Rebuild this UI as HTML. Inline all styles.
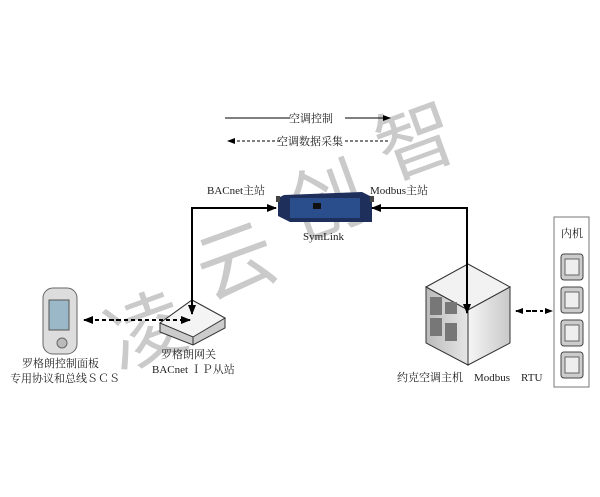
<!DOCTYPE html>
<html><head><meta charset="utf-8"><style>
body{margin:0;background:#fff;width:600px;height:497px;overflow:hidden;position:relative;font-family:"Liberation Serif","Noto Serif CJK SC",serif}
.t{position:absolute;font-size:11px;color:#222;white-space:nowrap}
.wm{position:absolute;font-family:"Noto Sans CJK SC",sans-serif;font-size:78px;color:rgba(150,150,150,0.5);transform:rotate(-20deg)}
</style></head><body>
<div class="wm" style="left:105px;top:270px">凌</div>
<div class="wm" style="left:195px;top:200px">云</div>
<div class="wm" style="left:285px;top:140px">创</div>
<div class="wm" style="left:375px;top:80px">智</div>
<svg width="600" height="497" style="position:absolute;left:0;top:0">
<defs>
<marker id="a" markerUnits="userSpaceOnUse" markerWidth="10" markerHeight="10" refX="9" refY="5" orient="auto"><path d="M0,1 L10,5 L0,9z" fill="#000"/></marker>
<marker id="s" markerUnits="userSpaceOnUse" markerWidth="8" markerHeight="8" refX="7" refY="4" orient="auto"><path d="M0,1 L8,4 L0,7z" fill="#000"/></marker>
<linearGradient id="cf" x1="0" x2="1"><stop offset="0" stop-color="#f6f6f6"/><stop offset="1" stop-color="#c8c8c8"/></linearGradient>
<linearGradient id="cl" x1="0" x2="1"><stop offset="0" stop-color="#bbb"/><stop offset="1" stop-color="#e6e6e6"/></linearGradient>
</defs>
<line x1="225" y1="118" x2="290" y2="118" stroke="#000"/>
<line x1="345" y1="118" x2="390" y2="118" stroke="#000" marker-end="url(#s)"/>
<line x1="280" y1="141" x2="228" y2="141" stroke="#000" stroke-dasharray="3,2" marker-end="url(#s)"/>
<line x1="345" y1="141" x2="390" y2="141" stroke="#000" stroke-dasharray="3,2"/>
<polygon points="284,195 362,192 372,197 372,222 290,222 278,216 278,198" fill="#1e2f5c"/>
<rect x="290" y="198" width="70" height="20" fill="#2a4d8c"/>
<rect x="313" y="203" width="8" height="6" fill="#111"/>
<rect x="276" y="196" width="4" height="6" fill="#444"/><rect x="370" y="196" width="4" height="6" fill="#444"/>
<rect x="43" y="288" width="34" height="66" rx="10" fill="#ddd" stroke="#666"/>
<rect x="49" y="300" width="20" height="30" fill="#9bb8c8" stroke="#555"/>
<circle cx="62" cy="343" r="5" fill="#bbb" stroke="#666"/>
<polygon points="160,323 192,300 225,318 225,328 193,345 160,332" fill="#ccc" stroke="#333"/>
<polygon points="160,323 192,300 225,318 193,337" fill="#f4f4f4" stroke="#333"/>
<line x1="193" y1="337" x2="193" y2="345" stroke="#333"/>
<polygon points="426,287 468,264 510,287 468,310" fill="#f2f2f2" stroke="#333"/>
<polygon points="426,287 468,310 468,365 426,343" fill="url(#cl)" stroke="#333"/>
<polygon points="468,310 510,287 510,343 468,365" fill="url(#cf)" stroke="#333"/>
<g fill="#777">
<rect x="430" y="297" width="12" height="18"/><rect x="430" y="318" width="12" height="18"/><rect x="445" y="323" width="12" height="18"/><rect x="445" y="302" width="12" height="12"/>
</g>
<rect x="554" y="217" width="35" height="170" fill="#fff" stroke="#777"/>
<g fill="#ccc" stroke="#444">
<rect x="561" y="254" width="22" height="26" rx="3"/><rect x="561" y="287" width="22" height="26" rx="3"/>
<rect x="561" y="320" width="22" height="26" rx="3"/><rect x="561" y="352" width="22" height="26" rx="3"/>
</g>
<g fill="#eee" stroke="#666">
<rect x="565" y="259" width="14" height="16"/><rect x="565" y="292" width="14" height="16"/>
<rect x="565" y="325" width="14" height="16"/><rect x="565" y="357" width="14" height="16"/>
</g>
<polyline points="192,250 192,208 276,208" fill="none" stroke="#000" stroke-width="2" marker-end="url(#a)"/>
<line x1="192" y1="240" x2="192" y2="314" stroke="#000" stroke-width="2" marker-end="url(#a)"/>
<polyline points="467,250 467,208 372,208" fill="none" stroke="#000" stroke-width="2" marker-end="url(#a)"/>
<line x1="467" y1="240" x2="467" y2="313" stroke="#000" stroke-width="2" marker-end="url(#a)"/>
<line x1="120" y1="320" x2="84" y2="320" stroke="#000" stroke-width="2" stroke-dasharray="4,3" marker-end="url(#a)"/>
<line x1="110" y1="320" x2="190" y2="320" stroke="#000" stroke-width="2" stroke-dasharray="4,3" marker-end="url(#a)"/>
<line x1="535" y1="311" x2="516" y2="311" stroke="#000" stroke-width="2" stroke-dasharray="3,3" marker-end="url(#s)"/>
<line x1="528" y1="311" x2="552" y2="311" stroke="#000" stroke-width="2" stroke-dasharray="3,3" marker-end="url(#s)"/>
</svg>
<div class="t" style="left:289px;top:110px">空调控制</div>
<div class="t" style="left:277px;top:133px">空调数据采集</div>
<div class="t" style="left:207px;top:182px">BACnet主站</div>
<div class="t" style="left:370px;top:182px">Modbus主站</div>
<div class="t" style="left:303px;top:231px">SymLink</div>
<div class="t" style="left:22px;top:355px">罗格朗控制面板</div>
<div class="t" style="left:10px;top:370px">专用协议和总线ＳＣＳ</div>
<div class="t" style="left:161px;top:346px">罗格朗网关</div>
<div class="t" style="left:152px;top:361px">BACnet ＩＰ从站</div>
<div class="t" style="left:397px;top:369px">约克空调主机　Modbus　RTU</div>
<div class="t" style="left:561px;top:225px">内机</div>
</body></html>
